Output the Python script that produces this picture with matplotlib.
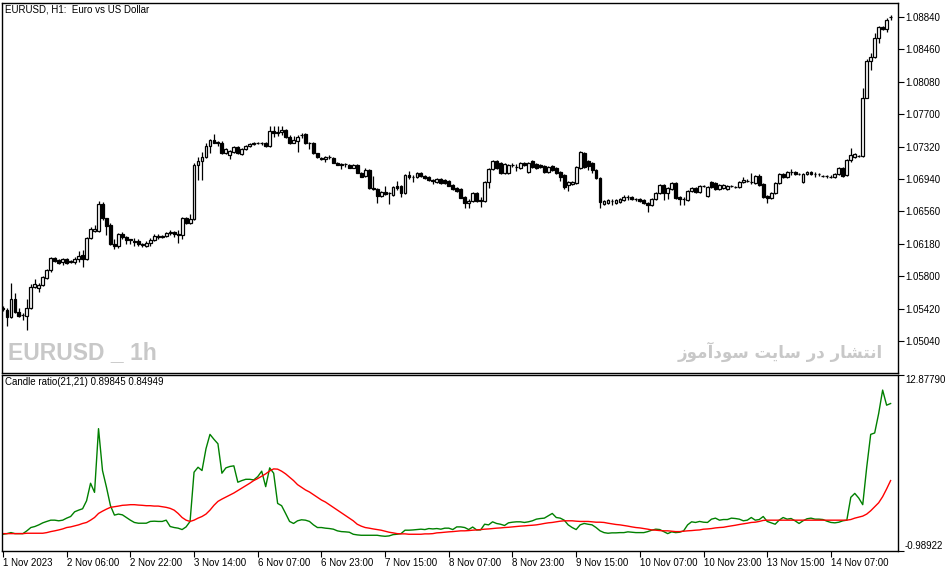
import numpy as np
import matplotlib
matplotlib.use("Agg")
import matplotlib.pyplot as plt

plt.rcParams["font.family"] = ["Liberation Sans", "DejaVu Sans"]

# --- EURUSD H1 candles (1 Nov 2023 .. 14 Nov 2023) ---
opens = [
    1.0543, 1.0540, 1.0532, 1.0553, 1.0538, 1.0534, 1.0533, 1.0543, 1.0567, 1.0566,
    1.0570, 1.0578, 1.0587, 1.0601, 1.0599, 1.0597, 1.0600, 1.0598, 1.0597, 1.0600,
    1.0605, 1.0600, 1.0625, 1.0633, 1.0633, 1.0665, 1.0648, 1.0640, 1.0618, 1.0615,
    1.0629, 1.0626, 1.0624, 1.0621, 1.0621, 1.0618, 1.0615, 1.0619, 1.0622, 1.0626,
    1.0627, 1.0627, 1.0631, 1.0632, 1.0629, 1.0628, 1.0648, 1.0642, 1.0647, 1.0710,
    1.0715, 1.0720, 1.0733, 1.0740, 1.0737, 1.0736, 1.0724, 1.0722, 1.0726, 1.0731,
    1.0723, 1.0729, 1.0733, 1.0735, 1.0736, 1.0736, 1.0736, 1.0733, 1.0750, 1.0748,
    1.0749, 1.0751, 1.0743, 1.0736, 1.0739, 1.0746, 1.0747, 1.0736, 1.0736, 1.0724,
    1.0719, 1.0717, 1.0720, 1.0719, 1.0713, 1.0712, 1.0712, 1.0710, 1.0707, 1.0710,
    1.0701, 1.0697, 1.0704, 1.0683, 1.0682, 1.0674, 1.0679, 1.0678, 1.0675, 1.0686,
    1.0686, 1.0678, 1.0699, 1.0696, 1.0696, 1.0701, 1.0697, 1.0696, 1.0693, 1.0690,
    1.0694, 1.0693, 1.0692, 1.0687, 1.0683, 1.0682, 1.0673, 1.0666, 1.0668, 1.0678,
    1.0669, 1.0668, 1.0690, 1.0706, 1.0715, 1.0713, 1.0701, 1.0701, 1.0710, 1.0708,
    1.0707, 1.0713, 1.0702, 1.0715, 1.0712, 1.0710, 1.0709, 1.0702, 1.0709, 1.0707,
    1.0702, 1.0699, 1.0687, 1.0688, 1.0689, 1.0707, 1.0724, 1.0715, 1.0713, 1.0704,
    1.0695, 1.0665, 1.0666, 1.0668, 1.0666, 1.0667, 1.0669, 1.0673, 1.0673, 1.0671,
    1.0671, 1.0669, 1.0666, 1.0663, 1.0671, 1.0678, 1.0687, 1.0678, 1.0682, 1.0689,
    1.0673, 1.0671, 1.0669, 1.0680, 1.0683, 1.0679, 1.0686, 1.0674, 1.0690, 1.0689,
    1.0682, 1.0683, 1.0682, 1.0686, 1.0685, 1.0685, 1.0690, 1.0692, 1.0690, 1.0689,
    1.0697, 1.0688, 1.0674, 1.0672, 1.0678, 1.0689, 1.0700, 1.0696, 1.0702, 1.0702,
    1.0700, 1.0690, 1.0700, 1.0702, 1.0700, 1.0700, 1.0697, 1.0697, 1.0696, 1.0696,
    1.0700, 1.0707, 1.0699, 1.0716, 1.0720, 1.0721, 1.0721, 1.0789, 1.0832, 1.0837,
    1.0859, 1.0872, 1.0870, 1.0884,
]
highs = [
    1.0545, 1.0543, 1.0572, 1.0560, 1.0543, 1.0537, 1.0553, 1.0571, 1.0577, 1.0572,
    1.0580, 1.0588, 1.0602, 1.0602, 1.0600, 1.0601, 1.0601, 1.0599, 1.0602, 1.0609,
    1.0611, 1.0626, 1.0638, 1.0640, 1.0668, 1.0667, 1.0648, 1.0642, 1.0624, 1.0631,
    1.0632, 1.0627, 1.0624, 1.0625, 1.0624, 1.0619, 1.0621, 1.0625, 1.0629, 1.0629,
    1.0628, 1.0632, 1.0634, 1.0633, 1.0634, 1.0649, 1.0649, 1.0653, 1.0713, 1.0720,
    1.0726, 1.0736, 1.0741, 1.0747, 1.0739, 1.0739, 1.0730, 1.0728, 1.0733, 1.0733,
    1.0730, 1.0734, 1.0736, 1.0737, 1.0737, 1.0737, 1.0737, 1.0756, 1.0756, 1.0756,
    1.0756, 1.0753, 1.0746, 1.0744, 1.0746, 1.0748, 1.0748, 1.0737, 1.0737, 1.0724,
    1.0720, 1.0721, 1.0722, 1.0720, 1.0714, 1.0713, 1.0713, 1.0712, 1.0712, 1.0712,
    1.0702, 1.0707, 1.0706, 1.0697, 1.0683, 1.0680, 1.0686, 1.0679, 1.0686, 1.0692,
    1.0687, 1.0700, 1.0703, 1.0699, 1.0702, 1.0702, 1.0699, 1.0697, 1.0694, 1.0695,
    1.0695, 1.0694, 1.0693, 1.0688, 1.0685, 1.0683, 1.0674, 1.0671, 1.0679, 1.0679,
    1.0673, 1.0692, 1.0707, 1.0716, 1.0716, 1.0714, 1.0713, 1.0712, 1.0713, 1.0712,
    1.0714, 1.0714, 1.0714, 1.0716, 1.0713, 1.0712, 1.0710, 1.0709, 1.0710, 1.0708,
    1.0703, 1.0700, 1.0692, 1.0692, 1.0709, 1.0727, 1.0726, 1.0716, 1.0714, 1.0706,
    1.0696, 1.0669, 1.0671, 1.0671, 1.0671, 1.0672, 1.0675, 1.0675, 1.0674, 1.0672,
    1.0672, 1.0671, 1.0667, 1.0672, 1.0679, 1.0688, 1.0688, 1.0685, 1.0690, 1.0690,
    1.0674, 1.0673, 1.0681, 1.0685, 1.0685, 1.0687, 1.0687, 1.0686, 1.0692, 1.0690,
    1.0688, 1.0688, 1.0687, 1.0687, 1.0686, 1.0692, 1.0696, 1.0694, 1.0701, 1.0699,
    1.0700, 1.0689, 1.0675, 1.0679, 1.0690, 1.0701, 1.0701, 1.0703, 1.0706, 1.0703,
    1.0701, 1.0701, 1.0703, 1.0703, 1.0702, 1.0701, 1.0699, 1.0699, 1.0699, 1.0701,
    1.0708, 1.0708, 1.0717, 1.0730, 1.0724, 1.0722, 1.0801, 1.0835, 1.0842, 1.0865,
    1.0873, 1.0873, 1.0883, 1.0886,
]
lows = [
    1.0539, 1.0521, 1.0531, 1.0537, 1.0532, 1.0528, 1.0517, 1.0541, 1.0566, 1.0561,
    1.0568, 1.0577, 1.0585, 1.0597, 1.0594, 1.0593, 1.0594, 1.0595, 1.0594, 1.0597,
    1.0591, 1.0599, 1.0624, 1.0632, 1.0632, 1.0646, 1.0628, 1.0616, 1.0612, 1.0613,
    1.0624, 1.0618, 1.0618, 1.0615, 1.0615, 1.0614, 1.0614, 1.0615, 1.0621, 1.0624,
    1.0625, 1.0626, 1.0628, 1.0626, 1.0619, 1.0624, 1.0641, 1.0641, 1.0646, 1.0693,
    1.0693, 1.0719, 1.0724, 1.0736, 1.0733, 1.0723, 1.0723, 1.0717, 1.0724, 1.0723,
    1.0722, 1.0728, 1.0731, 1.0734, 1.0735, 1.0734, 1.0731, 1.0731, 1.0743, 1.0744,
    1.0746, 1.0742, 1.0735, 1.0736, 1.0726, 1.0742, 1.0735, 1.0729, 1.0723, 1.0719,
    1.0716, 1.0714, 1.0717, 1.0713, 1.0710, 1.0706, 1.0708, 1.0707, 1.0707, 1.0701,
    1.0696, 1.0696, 1.0682, 1.0681, 1.0666, 1.0673, 1.0675, 1.0665, 1.0674, 1.0681,
    1.0673, 1.0676, 1.0694, 1.0690, 1.0695, 1.0696, 1.0694, 1.0692, 1.0688, 1.0689,
    1.0688, 1.0688, 1.0686, 1.0681, 1.0679, 1.0672, 1.0660, 1.0660, 1.0667, 1.0667,
    1.0661, 1.0667, 1.0683, 1.0704, 1.0706, 1.0700, 1.0700, 1.0700, 1.0708, 1.0703,
    1.0706, 1.0709, 1.0701, 1.0707, 1.0706, 1.0707, 1.0701, 1.0701, 1.0703, 1.0700,
    1.0692, 1.0682, 1.0680, 1.0687, 1.0688, 1.0706, 1.0707, 1.0704, 1.0701, 1.0694,
    1.0660, 1.0663, 1.0665, 1.0663, 1.0665, 1.0666, 1.0668, 1.0669, 1.0669, 1.0668,
    1.0667, 1.0665, 1.0655, 1.0662, 1.0669, 1.0676, 1.0669, 1.0671, 1.0681, 1.0671,
    1.0663, 1.0663, 1.0668, 1.0679, 1.0678, 1.0678, 1.0685, 1.0673, 1.0683, 1.0681,
    1.0681, 1.0682, 1.0681, 1.0685, 1.0683, 1.0683, 1.0689, 1.0690, 1.0688, 1.0688,
    1.0686, 1.0672, 1.0666, 1.0671, 1.0676, 1.0688, 1.0695, 1.0695, 1.0699, 1.0699,
    1.0699, 1.0689, 1.0699, 1.0699, 1.0696, 1.0697, 1.0696, 1.0695, 1.0695, 1.0695,
    1.0699, 1.0696, 1.0697, 1.0714, 1.0719, 1.0720, 1.0720, 1.0789, 1.0822, 1.0836,
    1.0853, 1.0869, 1.0866, 1.0880,
]
closes = [
    1.0541, 1.0532, 1.0553, 1.0538, 1.0533, 1.0534, 1.0543, 1.0567, 1.0571, 1.0570,
    1.0579, 1.0587, 1.0601, 1.0598, 1.0595, 1.0600, 1.0595, 1.0597, 1.0600, 1.0604,
    1.0600, 1.0625, 1.0635, 1.0635, 1.0665, 1.0648, 1.0639, 1.0618, 1.0615, 1.0629,
    1.0626, 1.0622, 1.0622, 1.0620, 1.0618, 1.0616, 1.0619, 1.0622, 1.0627, 1.0627,
    1.0626, 1.0631, 1.0632, 1.0629, 1.0628, 1.0648, 1.0642, 1.0647, 1.0710, 1.0715,
    1.0720, 1.0733, 1.0740, 1.0736, 1.0736, 1.0724, 1.0729, 1.0727, 1.0731, 1.0724,
    1.0729, 1.0733, 1.0735, 1.0736, 1.0736, 1.0736, 1.0733, 1.0750, 1.0748, 1.0749,
    1.0751, 1.0743, 1.0736, 1.0740, 1.0743, 1.0746, 1.0736, 1.0736, 1.0724, 1.0720,
    1.0717, 1.0720, 1.0720, 1.0713, 1.0710, 1.0710, 1.0712, 1.0707, 1.0710, 1.0701,
    1.0696, 1.0704, 1.0683, 1.0682, 1.0674, 1.0679, 1.0676, 1.0678, 1.0685, 1.0683,
    1.0678, 1.0699, 1.0696, 1.0696, 1.0701, 1.0697, 1.0695, 1.0693, 1.0692, 1.0694,
    1.0689, 1.0689, 1.0686, 1.0682, 1.0680, 1.0672, 1.0666, 1.0668, 1.0678, 1.0668,
    1.0668, 1.0690, 1.0706, 1.0715, 1.0707, 1.0701, 1.0712, 1.0710, 1.0710, 1.0708,
    1.0713, 1.0710, 1.0713, 1.0708, 1.0707, 1.0708, 1.0702, 1.0708, 1.0704, 1.0701,
    1.0696, 1.0685, 1.0690, 1.0690, 1.0708, 1.0726, 1.0708, 1.0709, 1.0704, 1.0695,
    1.0667, 1.0668, 1.0669, 1.0668, 1.0669, 1.0671, 1.0673, 1.0673, 1.0671, 1.0671,
    1.0668, 1.0666, 1.0663, 1.0671, 1.0678, 1.0687, 1.0678, 1.0683, 1.0689, 1.0672,
    1.0671, 1.0671, 1.0680, 1.0683, 1.0679, 1.0686, 1.0686, 1.0685, 1.0685, 1.0682,
    1.0687, 1.0687, 1.0686, 1.0686, 1.0685, 1.0690, 1.0693, 1.0692, 1.0690, 1.0697,
    1.0687, 1.0673, 1.0672, 1.0678, 1.0689, 1.0700, 1.0696, 1.0702, 1.0702, 1.0700,
    1.0700, 1.0700, 1.0702, 1.0700, 1.0700, 1.0700, 1.0697, 1.0697, 1.0696, 1.0700,
    1.0707, 1.0697, 1.0716, 1.0722, 1.0723, 1.0721, 1.0789, 1.0832, 1.0837, 1.0859,
    1.0872, 1.0870, 1.0880, 1.0884,
]

# --- Candle ratio(21,21) indicator, two buffers ---
ratio_fast = [
    0.33, 0.38, 0.46, 0.38, 0.38, 0.38, 0.60, 0.86, 0.94, 1.07,
    1.23, 1.34, 1.44, 1.44, 1.39, 1.44, 1.60, 1.73, 2.10, 2.23,
    2.34, 2.97, 4.35, 3.63, 8.65, 5.35, 4.03, 2.58, 1.84, 1.92,
    1.86, 1.65, 1.44, 1.26, 1.20, 1.20, 1.20, 1.34, 1.36, 1.34,
    1.34, 1.44, 0.94, 0.86, 0.81, 0.70, 0.91, 1.34, 5.22, 5.61,
    5.35, 7.07, 8.20, 7.81, 7.46, 5.14, 5.56, 5.67, 5.72, 4.43,
    4.56, 4.66, 4.66, 4.61, 4.87, 5.30, 4.08, 5.56, 5.14, 2.76,
    2.58, 1.97, 1.34, 1.18, 1.39, 1.47, 1.44, 1.34, 1.07, 0.86,
    0.86, 0.81, 0.78, 0.73, 0.60, 0.54, 0.52, 0.49, 0.33, 0.28,
    0.25, 0.25, 0.25, 0.25, 0.25, 0.20, 0.17, 0.20, 0.30, 0.33,
    0.38, 0.65, 0.65, 0.67, 0.70, 0.73, 0.70, 0.78, 0.75, 0.78,
    0.73, 0.81, 0.81, 0.70, 0.91, 0.91, 0.86, 0.70, 0.90, 0.67,
    0.67, 1.12, 1.07, 1.31, 1.18, 1.12, 1.02, 1.23, 1.28, 1.31,
    1.31, 1.26, 1.31, 1.39, 1.52, 1.57, 1.60, 1.78, 1.97, 1.65,
    1.60, 1.44, 1.07, 0.86, 0.70, 1.07, 1.18, 1.12, 1.07, 0.86,
    0.60, 0.46, 0.41, 0.44, 0.44, 0.46, 0.46, 0.52, 0.49, 0.46,
    0.46, 0.46, 0.54, 0.65, 0.73, 0.70, 0.54, 0.38, 0.52, 0.46,
    0.49, 0.60, 1.07, 1.31, 1.26, 1.34, 1.28, 1.26, 1.52, 1.60,
    1.44, 1.49, 1.49, 1.60, 1.57, 1.52, 1.39, 1.44, 1.65, 1.44,
    1.49, 1.73, 1.34, 1.23, 1.12, 1.44, 1.65, 1.52, 1.57, 1.39,
    1.18, 1.39, 1.55, 1.60, 1.52, 1.52, 1.49, 1.36, 1.26, 1.23,
    1.28, 1.39, 1.44, 3.24, 3.55, 3.18, 2.66, 5.61, 8.20, 8.31,
    9.84, 11.69, 10.50, 10.63,
]
ratio_slow = [
    0.38, 0.38, 0.38, 0.38, 0.38, 0.38, 0.41, 0.41, 0.41, 0.41,
    0.41, 0.46, 0.54, 0.60, 0.67, 0.75, 0.86, 0.91, 0.99, 1.07,
    1.18, 1.26, 1.44, 1.65, 1.97, 2.15, 2.31, 2.45, 2.50, 2.55,
    2.61, 2.63, 2.66, 2.66, 2.63, 2.61, 2.58, 2.58, 2.55, 2.55,
    2.50, 2.45, 2.37, 2.23, 1.97, 1.65, 1.44, 1.34, 1.44, 1.60,
    1.73, 1.92, 2.23, 2.61, 2.92, 3.10, 3.26, 3.42, 3.58, 3.77,
    3.95, 4.14, 4.35, 4.56, 4.72, 4.90, 5.09, 5.32, 5.48, 5.46,
    5.30, 5.09, 4.82, 4.56, 4.24, 4.03, 3.82, 3.66, 3.45, 3.24,
    3.03, 2.87, 2.66, 2.45, 2.23, 2.02, 1.81, 1.60, 1.39, 1.12,
    0.97, 0.86, 0.81, 0.75, 0.70, 0.65, 0.57, 0.49, 0.44, 0.38,
    0.36, 0.36, 0.33, 0.33, 0.33, 0.33, 0.36, 0.36, 0.38, 0.44,
    0.46, 0.49, 0.52, 0.54, 0.57, 0.60, 0.60, 0.62, 0.65, 0.67,
    0.70, 0.73, 0.75, 0.78, 0.81, 0.83, 0.86, 0.88, 0.91, 0.94,
    0.97, 0.99, 1.02, 1.04, 1.07, 1.12, 1.18, 1.23, 1.26, 1.31,
    1.36, 1.39, 1.39, 1.39, 1.36, 1.34, 1.34, 1.34, 1.31, 1.28,
    1.28, 1.26, 1.20, 1.15, 1.10, 1.07, 1.02, 0.97, 0.91, 0.86,
    0.83, 0.78, 0.73, 0.67, 0.65, 0.62, 0.60, 0.60, 0.57, 0.54,
    0.54, 0.57, 0.60, 0.62, 0.65, 0.67, 0.73, 0.75, 0.78, 0.83,
    0.86, 0.88, 0.94, 0.99, 1.04, 1.10, 1.15, 1.20, 1.26, 1.28,
    1.34, 1.42, 1.44, 1.44, 1.44, 1.44, 1.44, 1.44, 1.44, 1.44,
    1.44, 1.44, 1.44, 1.44, 1.44, 1.44, 1.44, 1.44, 1.44, 1.44,
    1.44, 1.44, 1.44, 1.49, 1.60, 1.68, 1.76, 1.92, 2.18, 2.50,
    2.81, 3.29, 3.90, 4.56,
]

# axis labels
price_ticks = [1.05040, 1.05420, 1.05800, 1.06180, 1.06560, 1.06940,
               1.07320, 1.07700, 1.08080, 1.08460, 1.08840]
ind_ticks = [-0.98922, 12.87790]
time_tick_bars = [0, 16, 32, 48, 64, 80, 96, 112, 128, 144, 160, 176, 192, 208]
time_tick_labels = ["1 Nov 2023", "2 Nov 06:00", "2 Nov 22:00", "3 Nov 14:00",
                    "6 Nov 07:00", "6 Nov 23:00", "7 Nov 15:00", "8 Nov 07:00",
                    "8 Nov 23:00", "9 Nov 15:00", "10 Nov 07:00", "10 Nov 23:00",
                    "13 Nov 15:00", "14 Nov 07:00"]

W, H = 951, 572
fig = plt.figure(figsize=(W / 100, H / 100), dpi=100)
fig.patch.set_facecolor("white")

ax = fig.add_axes([2 / W, 1 - 373 / H, 896 / W, 370 / H])
ax2 = fig.add_axes([2 / W, 21 / H, 896 / W, 176 / H])

# --- candles ---
o = np.array(opens)
h = np.array(highs)
l = np.array(lows)
c = np.array(closes)
x = np.arange(len(o))
up = c >= o
body_lo = np.minimum(o, c)
body_h = np.abs(c - o)

ax.vlines(x, l, h, color="black", lw=0.9, zorder=2)
ax.bar(x[up], body_h[up], bottom=body_lo[up], width=0.72, color="white",
       edgecolor="black", linewidth=0.9, zorder=3)
ax.bar(x[~up], body_h[~up], bottom=body_lo[~up], width=0.72, color="black",
       edgecolor="black", linewidth=0.9, zorder=3)

ax.set_xlim(-0.25, 224.86)
ax.set_ylim(1.04664, 1.09004)
ax.set_xticks([])
ax.yaxis.tick_right()
ax.set_yticks(price_ticks)
ax.set_yticklabels([f"{v:.5f}" for v in price_ticks])
ax.tick_params(axis="y", direction="out", length=4, width=0.8, labelsize=7, pad=1)

# --- indicator pane ---
ax2.plot(x, ratio_fast, color="#008000", lw=1.0)
ax2.plot(x, ratio_slow, color="#ff0000", lw=1.0)
ax2.set_xlim(-0.25, 224.86)
ax2.set_ylim(-0.98922, 12.87790)
ax2.yaxis.tick_right()
ax2.set_yticks(ind_ticks)
ax2.set_yticklabels([f"{v:.5f}" for v in ind_ticks])
ax2.tick_params(axis="y", direction="out", length=4, width=0.8, labelsize=7, pad=1)
ylbl = ax2.get_yticklabels()
ylbl[0].set_va("bottom")
ylbl[1].set_va("top")

ax2.set_xticks(time_tick_bars)
ax2.set_xticklabels(time_tick_labels, ha="left")
ax2.tick_params(axis="x", direction="out", length=4, width=0.8, labelsize=7, pad=1)

for a in (ax, ax2):
    for s in a.spines.values():
        s.set_color("black")
        s.set_linewidth(1.0)

# --- texts ---
fig.text(5 / W, 1 - 4 / H, "EURUSD, H1:  Euro vs US Dollar", fontsize=7, va="top", ha="left")
fig.text(5 / W, 1 - 377 / H, "Candle ratio(21,21) 0.89845 0.84949", fontsize=7, va="top", ha="left")

fig.text(8 / W, 1 - 353 / H, "EURUSD _ 1h", fontsize=16.5, fontweight="bold", color="#c8c8c8",
         va="center", ha="left", family=["Liberation Sans Narrow", "Liberation Sans"])
# Persian watermark "انتشار در سایت سودآموز", written in shaped glyphs, visual order
fa_text = ("\uFEAF\uFEEE\uFEE3\uFE81\uFEA9\uFEEE\uFEB3 \uFE96\uFBFE\uFE8E\uFEB3 "
           "\uFEAD\uFEA9 \uFEAD\uFE8E\uFEB8\uFE98\uFEE7\uFE8D")
fig.text(883 / W, 1 - 352 / H, fa_text, fontsize=12, fontweight="bold", color="#c8c8c8",
         va="center", ha="right", family=["DejaVu Sans"])

fig.savefig("out.png", dpi=100)
